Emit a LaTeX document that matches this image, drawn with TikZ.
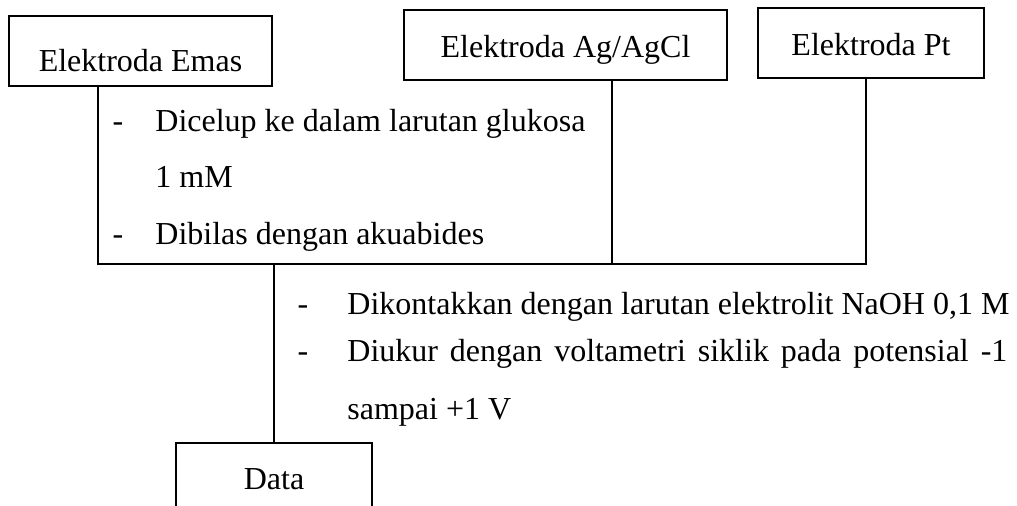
\documentclass[tikz,border=0pt]{standalone}
\usepackage{fontspec}
\setmainfont{Liberation Serif}
\usepackage{tikz}
\usetikzlibrary{positioning,calc}

\begin{document}
\begin{tikzpicture}[
    x=0.5pt, y=-0.5pt,
    font=\fontsize{16}{19}\selectfont,
    box/.style={rectangle, draw, line width=0.6pt, minimum height=35pt, text height=13pt, text depth=0pt, inner sep=0pt, align=center},
    item/.style={anchor=base west, inner sep=0pt},
    itemdash/.style={anchor=base, inner sep=0pt},
    link/.style={line width=0.6pt},
]
    % frame of the page (the Data box runs off the bottom)
    \path[use as bounding box, clip] (0,0) rectangle (1017,506);

    % === ELECTRODES ===
    \node[box, minimum width=131.5pt, text height=21pt] (emas) at (140.5, 51) {Elektroda Emas};
    \node[box, minimum width=161.5pt] (agcl) at (565.5, 45) {Elektroda Ag/AgCl};
    \node[box, minimum width=113pt] (pt) at (871, 43) {Elektroda Pt};

    % junctions on the common line
    \coordinate (jl) at (98, 264);
    \coordinate (ja) at (612, 264);
    \coordinate (jr) at (866, 264);

    \draw[link] (emas.south -| jl) -- (jl) -- (jr) -- (pt.south -| jr);
    \draw[link] (agcl.south -| ja) -- (ja);

    % Step 1
    \foreach \y/\n in {132/d1, 245/d2} {
        \node[itemdash] (\n) at (118, \y) {-};
    }
    \node[item] (s1a) at (155, 132) {Dicelup ke dalam larutan glukosa};
    \node[item] (s1b) at (155, 188) {1 mM};
    \node[item] (s1c) at (155, 245) {Dibilas dengan akuabides};

    % === MEASUREMENT ===
    \node[box, minimum width=98pt, minimum height=34pt] (data) at (274, 477) {Data};
    \draw[link] (data.north) -- (data.north |- jl);

    % Step 2
    \foreach \y/\n in {315/d3, 362/d4} {
        \node[itemdash] (\n) at (303, \y) {-};
    }
    \node[item] (s2a) at (347, 315) {Dikontakkan dengan larutan elektrolit NaOH 0,1 M};
    \node[item] (s2b) at (347, 362) {\makebox[330pt][s]{Diukur dengan voltametri siklik pada potensial -1}};
    \node[item] (s2c) at (347, 420) {sampai +1 V};

\end{tikzpicture}
\end{document}
